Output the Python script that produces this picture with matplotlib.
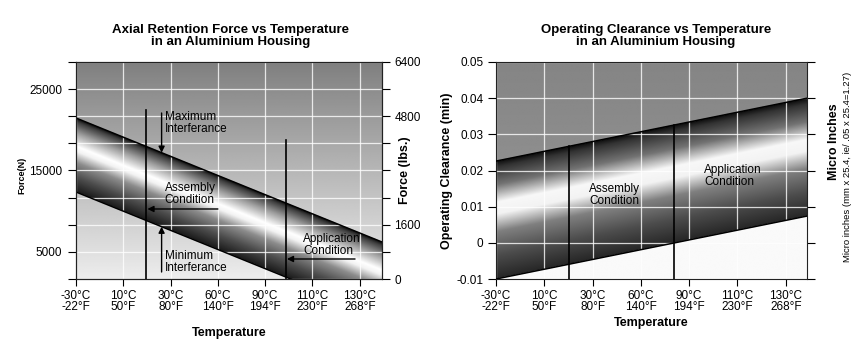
import numpy as np
import matplotlib
matplotlib.use("Agg")
import matplotlib.pyplot as plt

plt.rcParams['font.family'] = ['Liberation Sans', 'DejaVu Sans']

# ---------------- data ----------------
temps_c = ["-30°C", "10°C", "30°C", "60°C", "90°C", "110°C", "130°C"]
temps_f = ["-22°F", "50°F", "80°F", "140°F", "194°F", "230°F", "268°F"]

# Left chart: axial retention force band (N), x in category-position units
force_x = [0.0, 6.47]
force_upper = [21450, 6210]
force_lower = [12360, -2880]
force_ticks_n = [1666.7, 5000, 8333.3, 11666.7, 15000, 18333.3, 21666.7, 25000, 28333.3]
force_labels_n = ["", "5000", "", "", "15000", "", "", "25000", ""]
force_ticks_lbs = [0, 800, 1600, 2400, 3200, 4000, 4800, 5600, 6400]
force_labels_lbs = ["0", "", "1600", "", "", "", "4800", "", "6400"]
assembly_x_force = 1.49
assembly_top_force = 22430
application_x_force = 4.44
application_top_force = 18750

# Right chart: operating clearance band (mm)
clear_x = [0.0, 6.44]
clear_upper = [0.0226, 0.0400]
clear_lower = [-0.0100, 0.0074]
clear_ticks = [-0.01, 0.0, 0.01, 0.02, 0.03, 0.04, 0.05]
clear_labels = ["-0.01", "0", "0.01", "0.02", "0.03", "0.04", "0.05"]
assembly_x_clear = 1.51
application_x_clear = 3.69

W, H = 862, 355
fig = plt.figure(figsize=(W / 100, H / 100), dpi=100)
fig.patch.set_facecolor("white")


def fpos(x, y):
    return x / W, 1 - y / H


def shade(ax, xs, up, lo, xlim, ylim, bg_above, bg_below, tp, vp):
    nx, ny = 500, 400
    gx = np.linspace(xlim[0], xlim[1], nx)
    gy = np.linspace(ylim[0], ylim[1], ny)
    X, Y = np.meshgrid(gx, gy)
    su = (up[1] - up[0]) / (xs[1] - xs[0])
    sl = (lo[1] - lo[0]) / (xs[1] - xs[0])
    U = up[0] + su * (X - xs[0])
    L = lo[0] + sl * (X - xs[0])
    t = (U - Y) / (U - L)
    frac = (Y - ylim[0]) / (ylim[1] - ylim[0])
    Z = np.where(t < 0, bg_above(frac), bg_below(frac))
    inside = (t >= 0) & (t <= 1)
    Z = np.where(inside, np.interp(t, tp, vp), Z)
    ax.imshow(Z, cmap="gray", vmin=0, vmax=1, origin="lower", aspect="auto",
              extent=(xlim[0], xlim[1], ylim[0], ylim[1]), interpolation="bilinear",
              zorder=0)
    xx = np.array([xlim[0], xlim[1]])
    ax.plot(xx, up[0] + su * (xx - xs[0]), color="black", lw=1.1, zorder=3)
    ax.plot(xx, lo[0] + sl * (xx - xs[0]), color="black", lw=1.1, zorder=3)
    return su, sl


def style_axis(ax):
    for s in ax.spines.values():
        s.set_color("#222222")
        s.set_linewidth(0.8)
    ax.grid(True, color="white", lw=0.9, alpha=0.8)
    ax.set_xticks(range(7))
    ax.set_xticklabels([f"{c}\n{f}" for c, f in zip(temps_c, temps_f)], fontsize=8.5)
    for lbl in ax.get_xticklabels():
        lbl.set_linespacing(0.85)
    ax.tick_params(axis="x", length=5, width=0.8, pad=3)


# ---------------- left chart ----------------
axL = fig.add_axes([76 / W, 1 - 279 / H, 306 / W, 217 / H])
xlimL = (0, 6.47)
ylimL = (1666.7, 28333.3)
axL.set_xlim(*xlimL)
axL.set_ylim(*ylimL)
suL, slL = shade(axL, force_x, force_upper, force_lower, xlimL, ylimL,
                 lambda f: 0.93 - 0.43 * f, lambda f: 0.93 - 0.43 * f,
                 [0, 0.05, 0.2, 0.38, 0.45, 0.6, 0.8, 1.0],
                 [0.05, 0.25, 0.62, 1.0, 0.95, 0.55, 0.3, 0.1])
style_axis(axL)
axL.set_yticks(force_ticks_n)
axL.set_yticklabels(force_labels_n, fontsize=8.5)
axL.tick_params(axis="y", length=6, width=0.8, pad=4)

axL2 = axL.twinx()
axL2.set_ylim(0, 6400)
axL2.set_yticks(force_ticks_lbs)
axL2.set_yticklabels(force_labels_lbs, fontsize=8.5)
axL2.tick_params(axis="y", length=6, width=0.8, pad=3)
for s in axL2.spines.values():
    s.set_color("#222222")
    s.set_linewidth(0.8)

def upL(x):
    return force_upper[0] + suL * (x - force_x[0])

def loL(x):
    return force_lower[0] + slL * (x - force_x[0])

axL.plot([assembly_x_force] * 2, [ylimL[0], assembly_top_force], color="black", lw=1.2, zorder=4)
axL.plot([application_x_force] * 2, [ylimL[0], application_top_force], color="black", lw=1.2, zorder=4)

arrow = dict(arrowstyle="-|>", color="black", lw=1.0, mutation_scale=9, shrinkA=0, shrinkB=0)
xa = 1.81
axL.annotate("", xy=(xa, upL(xa)), xytext=(xa, 22066), arrowprops=arrow, zorder=5)
axL.annotate("", xy=(xa, loL(xa)), xytext=(xa, 2527), arrowprops=arrow, zorder=5)
axL.annotate("", xy=(assembly_x_force + 0.02, 10270), xytext=(3.0, 10270), arrowprops=arrow, zorder=5)
axL.annotate("", xy=(application_x_force + 0.02, 4125), xytext=(5.9, 4125), arrowprops=arrow, zorder=5)

tkw = dict(fontsize=8.5, linespacing=1.0, va="top", ha="left", zorder=6)
axL.text(1.875, 22300, "Maximum\nInterferance", **tkw)
axL.text(1.875, 13600, "Assembly\nCondition", **tkw)
axL.text(1.875, 5230, "Minimum\nInterferance", **tkw)
axL.text(4.8, 7320, "Application\nCondition", **tkw)

# ---------------- right chart ----------------
axR = fig.add_axes([496 / W, 1 - 279 / H, 311 / W, 217 / H])
xlimR = (0, 6.44)
ylimR = (-0.01, 0.05)
axR.set_xlim(*xlimR)
axR.set_ylim(*ylimR)
suR, slR = shade(axR, clear_x, clear_upper, clear_lower, xlimR, ylimR,
                 lambda f: 0.60 - 0.08 * f, lambda f: 0.98 + 0 * f,
                 [0, 0.05, 0.2, 0.35, 0.45, 0.6, 0.8, 1.0],
                 [0.05, 0.2, 0.45, 0.97, 0.95, 0.5, 0.3, 0.15])
style_axis(axR)
axR.set_yticks(clear_ticks)
axR.set_yticklabels(clear_labels, fontsize=8.5)
axR.tick_params(axis="y", length=6, width=0.8, pad=3, right=True, labelright=False)

def upR(x):
    return clear_upper[0] + suR * (x - clear_x[0])

axR.plot([assembly_x_clear] * 2, [ylimR[0], upR(assembly_x_clear)], color="black", lw=1.2, zorder=4)
axR.plot([application_x_clear] * 2, [ylimR[0], upR(application_x_clear)], color="black", lw=1.2, zorder=4)
axR.text(1.93, 0.0165, "Assembly\nCondition", **tkw)
axR.text(4.31, 0.0218, "Application\nCondition", **tkw)

# ---------------- labels & titles ----------------
fig.text(*fpos(231, 36), "Axial Retention Force vs Temperature\nin an Aluminium Housing",
         ha="center", va="center", fontsize=9.5, fontweight="bold", linespacing=1.05)
fig.text(*fpos(656, 36), "Operating Clearance vs Temperature\nin an Aluminium Housing",
         ha="center", va="center", fontsize=9.5, fontweight="bold", linespacing=1.05)
fig.text(*fpos(229, 333), "Temperature", ha="center", va="center", fontsize=9, fontweight="bold")
fig.text(*fpos(651, 323), "Temperature", ha="center", va="center", fontsize=9, fontweight="bold")
fig.text(*fpos(22, 175), "Force(N)", ha="center", va="center", rotation=90, fontsize=6.5,
         fontweight="bold")
fig.text(*fpos(405, 170), "Force (lbs.)", ha="center", va="center", rotation=90, fontsize=9,
         fontweight="bold")
fig.text(*fpos(447, 171), "Operating Clearance (min)", ha="center", va="center", rotation=90,
         fontsize=9, fontweight="bold")
fig.text(*fpos(834, 142), "Micro Inches", ha="center", va="center", rotation=90, fontsize=9,
         fontweight="bold")
fig.text(*fpos(848, 167), "Micro inches (mm x 25.4, ie/ .05 x 25.4=1.27)", ha="center",
         va="center", rotation=90, fontsize=6.8)

fig.savefig("out.png", dpi=100)
